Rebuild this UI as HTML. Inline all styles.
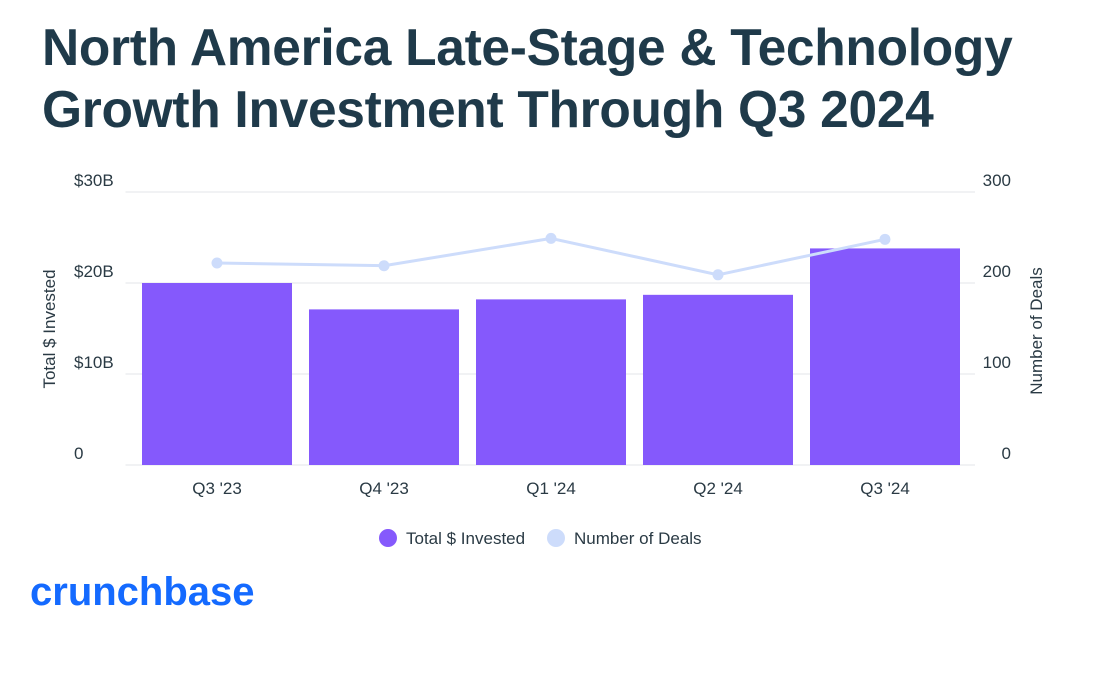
<!DOCTYPE html>
<html><head><meta charset="utf-8"><style>
body{margin:0;width:1097px;height:675px;background:#fff;font-family:"Liberation Sans",sans-serif;overflow:hidden;position:relative}
h1{position:absolute;left:42px;top:16px;margin:0;font-size:51.5px;line-height:62px;font-weight:bold;color:#1f3a4a;letter-spacing:-0.3px;white-space:nowrap}
svg{position:absolute;left:0;top:0}
.t{font-size:17px;fill:#2a3a44}
</style></head><body>
<h1>North America Late-Stage &amp; Technology<br>Growth Investment Through Q3 2024</h1>
<svg id="c" width="1097" height="675"></svg>
<script>
const categories=["Q3 '23","Q4 '23","Q1 '24","Q2 '24","Q3 '24"];
const invested=[20.0,17.1,18.2,18.7,23.8];
const deals=[222,219,249,209,248];
const leftTicks=[0,10,20,30];
const leftLabels=["0","$10B","$20B","$30B"];
const rightTicks=[0,100,200,300];
const NS="http://www.w3.org/2000/svg";
const svg=document.getElementById('c');
const x0=133.5,band=167,plotL=125.5,plotR=975,yBase=465,yTop=192;
const yL=v=>yBase-(v/30)*(yBase-yTop);
const yR=v=>yBase-(v/300)*(yBase-yTop);
const xc=i=>x0+band*i+band/2;
function mk(tag,attrs,txt){const e=document.createElementNS(NS,tag);for(const k in attrs)e.setAttribute(k,attrs[k]);if(txt!==undefined)e.textContent=txt;svg.appendChild(e);return e;}
leftTicks.forEach((t,i)=>{
 const g=mk('line',{x1:plotL,x2:plotR,y1:yL(t),y2:yL(t),stroke:'#e3e6e8','stroke-width':1});
 
 const a=mk('text',{x:74,y:yL(t)-6,class:'t'},leftLabels[i]);
 
 const b=mk('text',{x:1011,y:yR(rightTicks[i])-6,class:'t','text-anchor':'end'},String(rightTicks[i]));
 
});
invested.forEach((v,i)=>{
 const r=mk('rect',{x:xc(i)-75,width:150,y:yL(v),height:yBase-yL(v),fill:'#8559fc'});
 
 const l=mk('text',{x:xc(i),y:494,class:'t','text-anchor':'middle'},categories[i]);
 
});
const pl=mk('polyline',{points:deals.map((d,i)=>xc(i)+','+yR(d)).join(' '),fill:'none',stroke:'#cddcfb','stroke-width':3});

deals.forEach((d,i)=>{const c=mk('circle',{cx:xc(i),cy:yR(d),r:5.5,fill:'#cddcfb'});
 });
const ly=mk('text',{x:0,y:0,class:'t','font-size':'15','text-anchor':'middle',transform:'translate(55,329) rotate(-90)'},'Total $ Invested');

const ry=mk('text',{x:0,y:0,class:'t','font-size':'15','text-anchor':'middle',transform:'translate(1042,331) rotate(-90)'},'Number of Deals');

const c1=mk('circle',{cx:388,cy:538,r:9,fill:'#8559fc'});
const t1=mk('text',{x:406,y:544,class:'t'},'Total $ Invested');
const c2=mk('circle',{cx:556,cy:538,r:9,fill:'#cddcfb'});
const t2=mk('text',{x:574,y:544,class:'t'},'Number of Deals');
const lg=mk('text',{x:30,y:605,'font-size':'40','font-weight':'bold',fill:'#146aff','font-family':'Liberation Sans, sans-serif'},'crunchbase');

</script>
</body></html>
